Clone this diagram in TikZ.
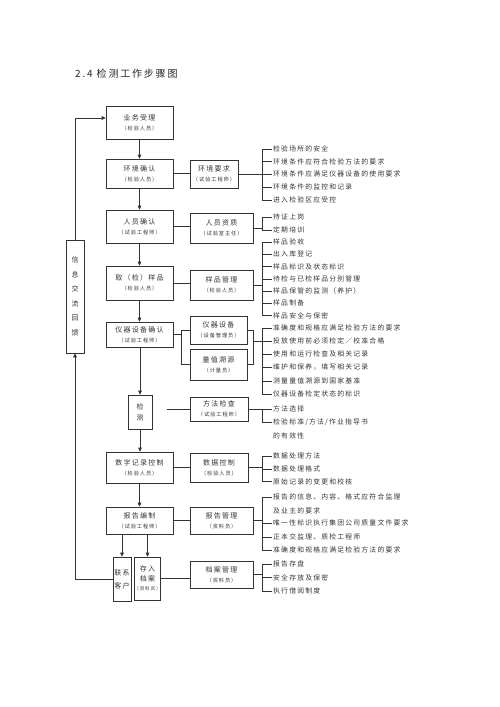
\documentclass[tikz,border=0pt]{standalone}
\usepackage{fontspec}
\setmainfont[LetterSpace=18]{Noto Sans CJK SC}
\usetikzlibrary{arrows.meta,positioning}

\tikzset{
  box/.style={draw=black!80,line width=0.6pt,inner sep=0pt,align=center,text=black!80,
    font=\fontsize{7}{10}\selectfont},
  mainbox/.style={box,minimum width=67pt},
  item/.style={anchor=west,inner sep=1.5pt,text=black!80,font=\fontsize{6.8}{8}\selectfont},
  line/.style={draw=black!80,line width=0.6pt},
  arr/.style={line,-{Triangle[length=4pt,width=3.6pt]}},
}
\newcommand{\sublbl}[1]{{\fontsize{5.2}{7}\selectfont #1}}

\begin{document}
\begin{tikzpicture}[x=1pt,y=-1pt]
  \useasboundingbox (0,0) rectangle (500,707);
  \node[anchor=west,inner sep=0pt,text=black!85,font=\fontsize{10}{12}\selectfont] (title) at (75,74) {2.4 检测工作步骤图};

  % main column
  \node[mainbox,minimum height=33pt] (ywsl) at (139.5,122.5) {业务受理\\\sublbl{（检验人员）}};
  \node[mainbox,minimum height=29pt] (hjqr) at (139.5,173.5) {环境确认\\\sublbl{（检验人员）}};
  \node[mainbox,minimum height=33pt] (ryqr) at (139.5,226.5) {人员确认\\\sublbl{（试验工程师）}};
  \node[mainbox,minimum height=34pt] (qyp)  at (139.5,283)   {取（检）样品\\\sublbl{（检验人员）}};
  \node[mainbox,minimum height=25pt] (yqqr) at (139.5,334.5) {仪器设备确认\\\sublbl{（试验工程师）}};
  \node[box,minimum width=24pt,minimum height=34pt,font=\fontsize{7}{11}\selectfont] (jc) at (140,412) {检\\测};
  \node[mainbox,minimum height=31pt] (sjjl) at (139.5,467.5) {数字记录控制\\\sublbl{（检验人员）}};
  \node[mainbox,minimum height=27pt] (bgbz) at (139.5,520.5) {报告编制\\\sublbl{（试验工程师）}};
  \node[box,minimum width=18pt,minimum height=44pt,font=\fontsize{7}{13}\selectfont] (lxkh) at (122,579) {联系\\客户};
  \node[box,minimum width=25pt,minimum height=43pt,font=\fontsize{7}{9.5}\selectfont] (cr) at (147.5,578.5) {存入\\档案\\{\fontsize{4.6}{7}\selectfont （资料员）}};
  \node[box,minimum width=18pt,minimum height=113pt,font=\fontsize{7}{14.5}\selectfont] (xxjl) at (75,296.5) {信\\息\\交\\流\\回\\馈};

  % side boxes
  \node[box,minimum width=48pt,minimum height=28pt] (hjyq) at (214,174)   {环境要求\\\sublbl{（试验工程师）}};
  \node[box,minimum width=63pt,minimum height=30pt] (ryzz) at (221.5,228) {人员资质\\\sublbl{（试验室主任）}};
  \node[box,minimum width=63pt,minimum height=30pt] (ypgl) at (221.5,285) {样品管理\\\sublbl{（检验人员）}};
  \node[box,minimum width=57pt,minimum height=28pt] (yqsb) at (218.5,330) {仪器设备\\\sublbl{（设备管理员）}};
  \node[box,minimum width=57pt,minimum height=31pt] (lzsy) at (218.5,364.5) {量值溯源\\\sublbl{（计量员）}};
  \node[box,minimum width=58pt,minimum height=24pt] (ffjc) at (219,409)   {方法检查\\\sublbl{（试验工程师）}};
  \node[box,minimum width=58pt,minimum height=29pt] (sjkz) at (219,467.5) {数据控制\\\sublbl{（检验人员）}};
  \node[box,minimum width=63pt,minimum height=27pt] (bggl) at (221.5,520.5) {报告管理\\\sublbl{（资料员）}};
  \node[box,minimum width=63pt,minimum height=27pt] (dagl) at (221.5,574.5) {档案管理\\\sublbl{（资料员）}};

  % flow arrows
  \draw[arr] (ywsl) -- (hjqr);
  \draw[arr] (hjqr) -- (ryqr);
  \draw[arr] (ryqr) -- (qyp);
  \draw[arr] (qyp) -- (yqqr);
  \draw[arr] (yqqr.south -| jc.north) -- (jc.north);
  \draw[arr] (jc.south) -- (jc.south |- sjjl.north);
  \draw[arr] (sjjl) -- (bgbz);
  \draw[arr] (bgbz.south -| lxkh.north) -- (lxkh.north);
  \draw[arr] (bgbz.south -| cr.north) -- (cr.north);
  \draw[arr] (lxkh.west) -| (xxjl.south);
  \draw[arr] (xxjl.north) |- ([yshift=4.5pt]ywsl.west);

  % main to side
  \draw[line] (hjqr.east) -- (hjqr.east -| hjyq.west);
  \draw[line] (ryqr.east) -- (ryqr.east -| ryzz.west);
  \draw[line] (qyp.east) -- (qyp.east -| ypgl.west);
  \draw[line] (sjjl.east) -- (sjjl.east -| sjkz.west);
  \draw[line] (bgbz.east) -- (bgbz.east -| bggl.west);
  \draw[line] (cr.east) -- (cr.east -| dagl.west);
  \draw[line,shorten <=15pt] (jc.east |- ffjc.west) -- (ffjc.west);
  \draw[line] (yqqr.east) -- ++(8,0) coordinate (ls);
  \draw[line] (ls |- yqsb.west) -- (yqsb.west);
  \draw[line] (ls |- lzsy.west) -- (lzsy.west);
  \draw[line] (ls |- yqsb.west) -- (ls |- lzsy.west);
  \draw[line] (yqsb.east) -- ++(6,0) coordinate (rs1);
  \draw[line] (lzsy.east) -- ++(6,0) coordinate (rs2);
  \draw[line] (rs1) -- (rs2);

  % item lists
  \coordinate (sp) at (262,0);
  \foreach \t/\y [count=\i] in {检验场所的安全/149,环境条件应符合检验方法的要求/161.5,
      环境条件应满足仪器设备的使用要求/174,环境条件的监控和记录/187,进入检验区应受控/200}
    \node[item] (h\i) at (271.5,\y) {\t};
  \foreach \t/\y [count=\i] in {持证上岗/217,定期培训/230}
    \node[item] (r\i) at (271.5,\y) {\t};
  \foreach \t/\y [count=\i] in {样品验收/242,出入库登记/254,样品标识及状态标识/266.5,
      待检与已检样品分别管理/279,样品保管的监测（养护）/291,样品制备/303,样品安全与保密/315.5}
    \node[item] (p\i) at (271.5,\y) {\t};
  \foreach \t/\y [count=\i] in {准确度和规格应满足检验方法的要求/328,投放使用前必须检定／校准合格/341,
      使用和运行检查及相关记录/354,维护和保养，填写相关记录/367,测量量值溯源到国家基准/381,
      仪器设备检定状态的标识/394}
    \node[item] (e\i) at (271.5,\y) {\t};
  \node[item] (f1) at (271.5,409) {方法选择};
  \node[item] (f2) at (271.5,422.5) {检验标准/方法/作业指导书};
  \node[item] (f3) at (271.5,436) {的有效性};
  \foreach \t/\y [count=\i] in {数据处理方法/456,数据处理格式/469,原始记录的变更和校核/481.5}
    \node[item] (d\i) at (271.5,\y) {\t};
  \foreach \t/\y [count=\i] in {报告的信息、内容、格式应符合监理/497,及业主的要求/510.5,
      唯一性标识执行集团公司质量文件要求/523,正本交监理、质检工程师/537,
      准确度和规格应满足检验方法的要求/550}
    \node[item] (b\i) at (271.5,\y) {\t};
  \foreach \t/\y [count=\i] in {报告存盘/564,安全存放及保密/577.5,执行借阅制度/591}
    \node[item] (a\i) at (271.5,\y) {\t};

  % brackets
  \draw[line] (hjyq.east) -- (hjyq.east -| sp);
  \draw[line] (h1.west -| sp) -- (h5.west -| sp);
  \foreach \i in {1,...,5} \draw[line] (h\i.west -| sp) -- (h\i.west);
  \draw[line] (ryzz.east) -- (ryzz.east -| sp);
  \draw[line] (r1.west -| sp) -- (r2.west -| sp);
  \foreach \i in {1,2} \draw[line] (r\i.west -| sp) -- (r\i.west);
  \draw[line] (ypgl.east) -- (ypgl.east -| sp);
  \draw[line] (p1.west -| sp) -- (p7.west -| sp);
  \foreach \i in {1,...,7} \draw[line] (p\i.west -| sp) -- (p\i.west);
  \draw[line] (e2.west -| rs1) -- (e2.west);
  \draw[line] (e1.west -| sp) -- (e6.west -| sp);
  \foreach \i in {1,...,6} \draw[line] (e\i.west -| sp) -- (e\i.west);
  \draw[line] (ffjc.east) -- (ffjc.east -| sp);
  \draw[line] (f1.west -| sp) -- (f2.west -| sp);
  \foreach \i in {1,2} \draw[line] (f\i.west -| sp) -- (f\i.west);
  \draw[line] (sjkz.east) -- (sjkz.east -| sp);
  \draw[line] (d1.west -| sp) -- (d3.west -| sp);
  \foreach \i in {1,2,3} \draw[line] (d\i.west -| sp) -- (d\i.west);
  \draw[line] (bggl.east) -- (bggl.east -| sp);
  \draw[line] (b1.west -| sp) -- (b5.west -| sp);
  \foreach \i in {1,3,4,5} \draw[line] (b\i.west -| sp) -- (b\i.west);
  \draw[line] (dagl.east) -- (dagl.east -| sp);
  \draw[line] (a1.west -| sp) -- (a3.west -| sp);
  \foreach \i in {1,2,3} \draw[line] (a\i.west -| sp) -- (a\i.west);
\end{tikzpicture}
\end{document}
